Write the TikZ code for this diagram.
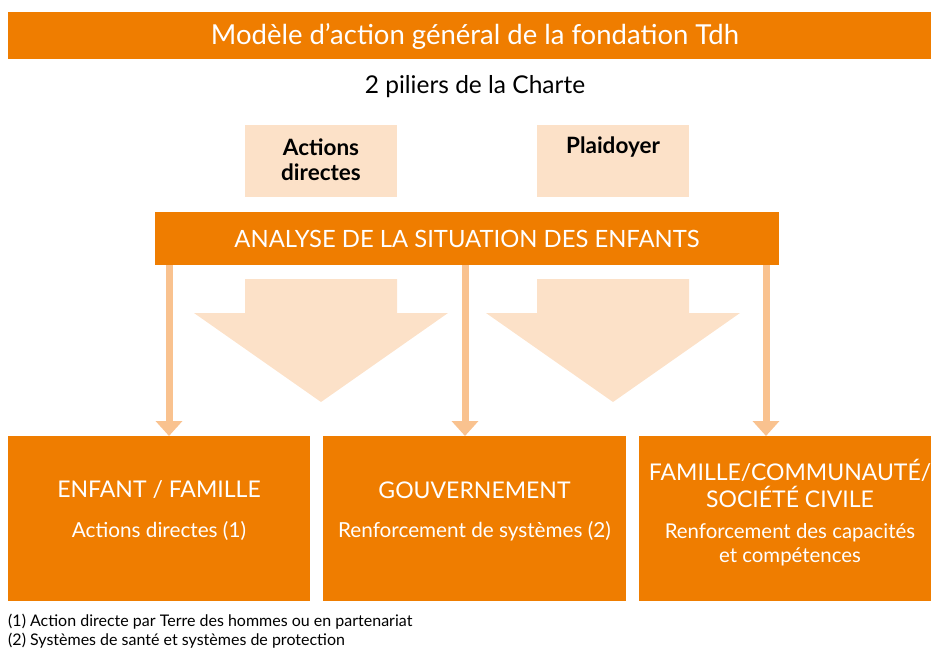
\documentclass[tikz,border=0pt]{standalone}
\usepackage{fontspec}
\setmainfont{Lato}
\usetikzlibrary{arrows.meta}
\definecolor{tdh}{HTML}{EF7D00}
\definecolor{peach}{HTML}{FCE1C8}
\definecolor{thinc}{HTML}{F9C28F}
\tikzset{
  obox/.style={fill=tdh, draw=none, inner sep=0pt, outer sep=0pt},
  pbox/.style={fill=peach, draw=none, inner sep=0pt, outer sep=0pt},
  wtxt/.style={text=white, inner sep=0pt, align=center},
  btxt/.style={text=black, inner sep=0pt, align=center},
  thinarrow/.style={draw=thinc, line width=7pt, -{Triangle[width=26pt,length=15pt]}},
  bigarrow/.style={fill=peach, draw=none}
}
\begin{document}
\begin{tikzpicture}[x=1pt,y=-1pt]
\useasboundingbox (0,0) rectangle (931,649);
% title bar
\node[obox, minimum width=923pt, minimum height=47pt] (titlebar) at (469.5,35.5) {};
\node[wtxt, font=\fontsize{27.5}{32}\selectfont] (title) at (475,36) {Modèle d’action général de la fondation Tdh};
\node[btxt, font=\fontsize{24.5}{28}\selectfont] (sub) at (475,87) {2 piliers de la Charte};
% pillars
\node[pbox, minimum width=152pt, minimum height=72pt] (ad) at (321,161) {};
\node[pbox, minimum width=152pt, minimum height=72pt] (pl) at (613,161) {};
\node[btxt, font=\fontsize{22.5}{25}\selectfont\bfseries] (adt) at (321,159.5) {Actions\\directes};
\node[btxt, font=\fontsize{22.5}{25}\selectfont\bfseries] (plt) at (613,147) {Plaidoyer};
% analyse bar
\node[obox, minimum width=624pt, minimum height=53pt] (an) at (467,238.5) {};
\node[wtxt, font=\fontsize{23.8}{27}\selectfont] (ant) at (467,239) {ANALYSE DE LA SITUATION DES ENFANTS};
% big arrows
\fill[bigarrow] (245,279) -- (397,279) -- (397,313) -- (448,313) -- (321,402) -- (194,313) -- (245,313) -- cycle;
\fill[bigarrow] (537,279) -- (689,279) -- (689,313) -- (740,313) -- (613,402) -- (486,313) -- (537,313) -- cycle;
% bottom boxes
\node[obox, minimum width=302pt, minimum height=165pt] (b1) at (159,518.5) {};
\node[obox, minimum width=303pt, minimum height=165pt] (b2) at (474.5,518.5) {};
\node[obox, minimum width=292pt, minimum height=165pt] (b3) at (785,518.5) {};
% thin arrows
\coordinate (s1) at (169,265); \coordinate (e1) at (169,436);
\coordinate (s2) at (465,265); \coordinate (e2) at (465,436);
\coordinate (s3) at (766,265); \coordinate (e3) at (766,436);
\draw[thinarrow] (s1) -- (e1);
\draw[thinarrow] (s2) -- (e2);
\draw[thinarrow] (s3) -- (e3);
% texts in bottom boxes
\node[wtxt, font=\fontsize{23}{27}\selectfont] (t1) at (159,490) {ENFANT / FAMILLE};
\node[wtxt, font=\fontsize{20.7}{24}\selectfont] (u1) at (159,531) {Actions directes (1)};
\node[wtxt, font=\fontsize{23}{27}\selectfont] (t2) at (474.5,490) {GOUVERNEMENT};
\node[wtxt, font=\fontsize{20.7}{24}\selectfont] (u2) at (474.5,531) {Renforcement de systèmes (2)};
\node[wtxt, font=\fontsize{23}{27}\selectfont] (t3) at (790,483.5) {FAMILLE/COMMUNAUTÉ/\\SOCIÉTÉ CIVILE};
\node[wtxt, font=\fontsize{20.4}{24}\selectfont] (u3) at (790,545) {Renforcement des capacités\\et compétences};
% footnotes
\node[btxt, anchor=west, font=\fontsize{16}{19}\selectfont] (f1) at (8,622) {(1) Action directe par Terre des hommes ou en partenariat};
\node[btxt, anchor=west, font=\fontsize{16}{19}\selectfont] (f2) at (8,641) {(2) Systèmes de santé et systèmes de protection};
\end{tikzpicture}
\end{document}
